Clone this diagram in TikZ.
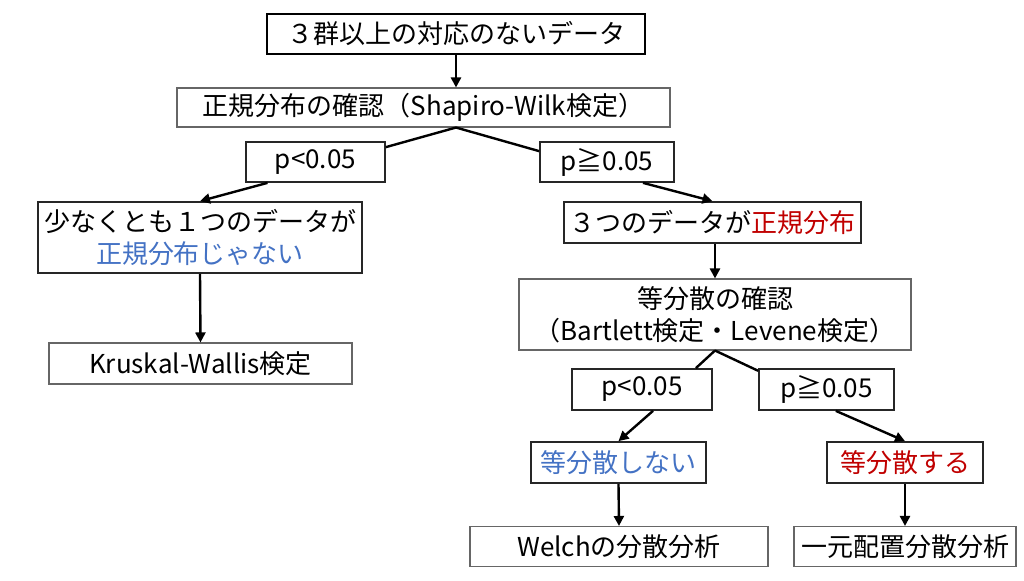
\documentclass[tikz,border=0pt]{standalone}
\usepackage{fontspec}
\setmainfont{Noto Sans CJK JP}
\usetikzlibrary{arrows.meta}
\definecolor{normblue}{RGB}{68,114,196}
\definecolor{normred}{RGB}{192,0,0}
\tikzset{
  box/.style={draw, rectangle, inner sep=0pt, align=center,
    font=\fontsize{19.5}{24}\selectfont},
  thinbox/.style={box, draw=black!60, line width=0.8pt},
  boldbox/.style={box, draw=black!85, line width=1.3pt},
  topbox/.style={box, draw=black, line width=1.7pt},
  link/.style={line width=1.8pt},
  arrow/.style={link, -{Triangle[width=7.5pt,length=7.5pt]}}
}
\begin{document}
\begin{tikzpicture}[x=0.75pt, y=-0.75pt]
    \useasboundingbox (0,0) rectangle (1024,581);

    \node[topbox, minimum width=283.5pt, minimum height=30pt] (data) at (456,34) {３群以上の対応のないデータ};
    \node[thinbox, minimum width=369.75pt, minimum height=29.25pt] (normtest) at (423.5,107.5) {正規分布の確認（Shapiro-Wilk検定）};
    \node[boldbox, minimum width=104.25pt, minimum height=30pt] (plow) at (315.5,162) {p<0.05};
    \node[boldbox, minimum width=100.5pt, minimum height=30pt] (phigh) at (607,162) {p≧0.05};
    \node[boldbox, minimum width=243pt, minimum height=53.25pt] (nonnorm) at (200,237.5) {少なくとも１つのデータが\\\textcolor{normblue}{正規分布じゃない}};
    \node[thinbox, minimum width=227.25pt, minimum height=30.75pt] (kruskal) at (200.5,363.5) {Kruskal-Wallis検定};
    \node[boldbox, minimum width=222.75pt, minimum height=30.75pt] (allnorm) at (712.5,222.5) {３つのデータが\textcolor{normred}{正規分布}};
    \node[thinbox, minimum width=294pt, minimum height=53.25pt] (vartest) at (715,314.5) {等分散の確認\\（Bartlett検定・Levene検定）};
    \node[boldbox, minimum width=105pt, minimum height=30.75pt] (vlow) at (642,389.5) {p<0.05};
    \node[boldbox, minimum width=101.25pt, minimum height=30.75pt] (vhigh) at (826.5,389.5) {p≧0.05};
    \node[boldbox, minimum width=131.25pt, minimum height=30.75pt] (uneqvar) at (618.5,462.5) {\textcolor{normblue}{等分散しない}};
    \node[boldbox, minimum width=117pt, minimum height=30.75pt] (eqvar) at (905,462.5) {\textcolor{normred}{等分散する}};
    \node[thinbox, minimum width=223.5pt, minimum height=30pt] (welch) at (619,546.5) {Welchの分散分析};
    \node[thinbox, minimum width=166.5pt, minimum height=30pt] (anova) at (905,546.5) {一元配置分散分析};

    \coordinate (split) at (data.south |- normtest.south);

    \draw[arrow] (data.south) -- (data.south |- normtest.north);
    \draw[link] (split) -- ([yshift=-4.5pt]plow.north east);
    \draw[link] (split) -- ([yshift=-7.5pt]phigh.north west);
    \draw[arrow] ([xshift=-36pt]plow.south) -- (nonnorm.north);
    \draw[arrow] ([xshift=27pt]phigh.south) -- (allnorm.north);
    \draw[arrow] (nonnorm.south) -- (kruskal.north);
    \draw[arrow] (vartest.north |- allnorm.south) -- (vartest.north);
    \draw[link] (vartest.south) -- ([xshift=-12.75pt]vlow.north east);
    \draw[link] (vartest.south) -- ([yshift=-2pt]vhigh.north west);
    \draw[arrow] ([xshift=8.25pt]vlow.south) -- (uneqvar.north);
    \draw[arrow] ([xshift=7pt]vhigh.south) -- (eqvar.north);
    \draw[arrow] (uneqvar.south) -- (welch.north);
    \draw[arrow] (eqvar.south) -- (anova.north);
\end{tikzpicture}
\end{document}
